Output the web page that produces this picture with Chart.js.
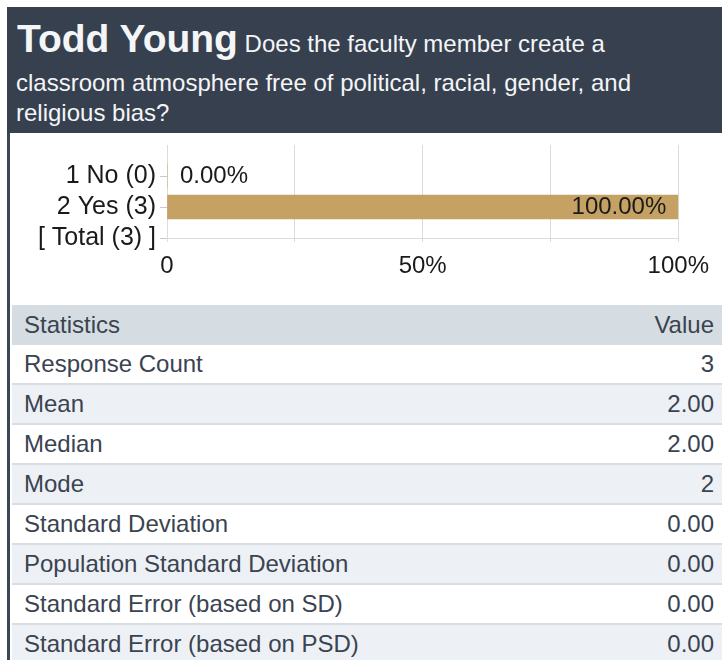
<!DOCTYPE html>
<html>
<head>
<meta charset="utf-8">
<script src="https://cdn.jsdelivr.net/npm/chart.js@4.4.1/dist/chart.umd.min.js"></script>
<style>
  html, body { margin: 0; padding: 0; background: #fff; }
  body { width: 722px; height: 660px; overflow: hidden; position: relative;
         font-family: "Liberation Sans", Arial, sans-serif; }
  #hd { position: absolute; left: 7px; top: 7px; width: 715px; height: 126px;
        background: #36404f; color: #f4f5f7; }
  #hd .l1 { position: absolute; left: 10px; top: 9px; font-size: 24px; line-height: 46px; white-space: nowrap; }
  #hd .l1 b { font-size: 39px; }
  #hd .l2 { position: absolute; left: 9px; top: 61px; font-size: 24px; line-height: 30px; white-space: nowrap; }
  #bar { position: absolute; left: 7px; top: 133px; width: 3px; height: 527px; background: #3b4656; }
  #wrap { position: absolute; left: 10px; top: 126px; width: 709px; height: 179px; }
  table { position: absolute; left: 12px; top: 305px; width: 710px; border-collapse: collapse;
          font-size: 24px; color: #3a4350; }
  td { height: 38px; padding: 0 8px 0 12px; border-bottom: 2px solid #d8dde2; }
  td.v { text-align: right; }
  tr.h td { background: #d6dde2; border-bottom: none; height: 40px; }
  tr.alt td { background: #edf1f5; }
</style>
</head>
<body>
<div id="hd">
  <div class="l1"><b>Todd Young</b> Does the faculty member create a</div>
  <div class="l2">classroom atmosphere free of political, racial, gender, and<br>religious bias?</div>
</div>
<div id="bar"></div>
<div id="wrap"><canvas id="chart" width="709" height="179"></canvas></div>
<table id="stats"></table>
<script>
var categories = ['1 No (0)', '2 Yes (3)', '[ Total (3) ]'];
var percents = [0, 100, null];
var xTicks = {0: '0', 50: '50%', 100: '100%'};

var statNames = ['Response Count', 'Mean', 'Median', 'Mode', 'Standard Deviation',
  'Population Standard Deviation', 'Standard Error (based on SD)', 'Standard Error (based on PSD)'];
var statValues = ['3', '2.00', '2.00', '2', '0.00', '0.00', '0.00', '0.00'];

// table
var html = '<tr class="h"><td>Statistics</td><td class="v">Value</td></tr>';
statNames.forEach(function(name, i){
    html += '<tr' + (i % 2 == 1 ? ' class="alt"' : '') + '><td>' + name + '</td><td class="v">' + statValues[i] + '</td></tr>';
});
document.getElementById('stats').innerHTML = html;

Chart.defaults.font.family = '"Liberation Sans", Arial, sans-serif';
Chart.defaults.font.size = 24;
Chart.defaults.color = '#1a1a1a';

// blank first row leaves the space above "1 No"
var labels = [''].concat(categories);
var values = [null].concat(percents);

var pctLabels = {
    id: 'pctLabels',
    afterDatasetsDraw: function(chart){
        var ctx = chart.ctx;
        var meta = chart.getDatasetMeta(0);
        ctx.save();
        ctx.font = '24px "Liberation Sans", Arial, sans-serif';
        ctx.fillStyle = '#1a1a1a';
        ctx.textBaseline = 'middle';
        meta.data.forEach(function(bar, i){
            var v = values[i];
            if (v === null || v === undefined) return;
            var txt = v.toFixed(2) + '%';
            if (v > 50){
                ctx.textAlign = 'right';
                ctx.fillText(txt, bar.x - 12, bar.y);
            } else {
                ctx.textAlign = 'left';
                ctx.fillText(txt, bar.x + 13, bar.y);
            }
        });
        ctx.restore();
    }
};

var chart = new Chart(document.getElementById('chart').getContext('2d'), {
    type: 'bar',
    data: {
        labels: labels,
        datasets: [{
            data: values,
            backgroundColor: '#c5a163',
            barThickness: 24
        }]
    },
    options: {
        indexAxis: 'y',
        responsive: false,
        animation: false,
        layout: { padding: { top: 4, right: 37, left: 0, bottom: 0 } },
        plugins: { legend: { display: false }, tooltip: { enabled: false } },
        scales: {
            x: {
                min: 0, max: 100,
                grid: { color: '#dcdcdc', tickLength: 4 },
                border: { color: '#dcdcdc' },
                ticks: {
                    stepSize: 25, padding: 10, maxRotation: 0,
                    callback: function(v){ return xTicks[v] !== undefined ? xTicks[v] : ''; }
                },
                afterFit: function(s){ s.height = 67; }
            },
            y: {
                offset: false,
                grid: {
                    offset: false, drawOnChartArea: false, tickLength: 7,
                    color: function(c){ return c.index === 0 ? 'rgba(0,0,0,0)' : '#c8c8c8'; }
                },
                border: { color: '#dcdcdc' },
                ticks: { padding: 4, autoSkip: false, font: { size: 25 } },
                afterFit: function(s){ s.width = 157; }
            }
        }
    },
    plugins: [pctLabels]
});
</script>
</body>
</html>
